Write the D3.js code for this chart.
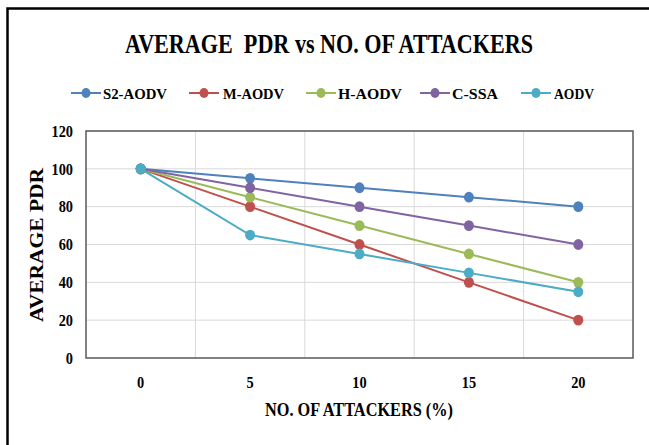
<!DOCTYPE html>
<html>
<head>
<meta charset="utf-8">
<script src="https://cdn.jsdelivr.net/npm/d3@7"></script>
<style>
  html, body { margin: 0; padding: 0; background: #fff; }
  svg { display: block; }
  text { font-family: "Liberation Serif", "Times New Roman", serif; font-weight: bold; fill: #000; white-space: pre; }
</style>
</head>
<body>
<svg id="chart" width="649" height="445"></svg>
<script>
// Attack percentages on the x axis
const categories = ["0", "5", "10", "15", "20"];

// Average packet delivery ratio per protocol
const seriesNames = ["S2-AODV", "M-AODV", "H-AODV", "C-SSA", "AODV"];
const s2aodv = [100, 95, 90, 85, 80];
const maodv  = [100, 80, 60, 40, 20];
const haodv  = [100, 85, 70, 55, 40];
const cssa   = [100, 90, 80, 70, 60];
const aodv   = [100, 65, 55, 45, 35];
const seriesValues = [s2aodv, maodv, haodv, cssa, aodv];
const seriesColors = ["#4F81BD", "#C0504D", "#9BBB59", "#8064A2", "#4BACC6"];

const yTicks = [0, 20, 40, 60, 80, 100, 120];

const titleText = "AVERAGE  PDR vs NO. OF ATTACKERS";
const xTitleText = "NO. OF ATTACKERS (%)";
const yTitleText = "AVERAGE PDR";

const FONT = '"Liberation Serif", "Times New Roman", serif';
const svg = d3.select("#chart");

// Outer frame (left and top edges)
svg.append("path")
  .attr("d", "M7.5,445 L7.5,8.5 L649,8.5")
  .attr("fill", "none")
  .attr("stroke", "#000")
  .attr("stroke-width", 2.5);

const plot = { left: 86, right: 633, top: 131, bottom: 358 };

const x = d3.scaleBand().domain(categories).range([plot.left, plot.right]).paddingInner(0).paddingOuter(0);
const y = d3.scaleLinear().domain([0, 120]).range([plot.bottom, plot.top]);
const cx = c => x(c) + x.bandwidth() / 2;

// Fit a text element to a given width
function fit(sel, w) {
  sel.attr("textLength", w).attr("lengthAdjust", "spacingAndGlyphs");
}
function squeeze(sel, k) {
  sel.each(function () {
    const len = this.getComputedTextLength();
    d3.select(this).attr("textLength", len * k).attr("lengthAdjust", "spacingAndGlyphs");
  });
}

// Title
svg.append("text")
  .attr("x", 125).attr("y", 53)
  .style("font-size", "27px")
  .text(titleText)
  .call(fit, 408);

// Legend
const legendItems = [
  { mark: 86, textX: 103, w: 64 },
  { mark: 204, textX: 223, w: 61 },
  { mark: 321, textX: 338, w: 64 },
  { mark: 435, textX: 452, w: 46 },
  { mark: 536, textX: 554, w: 40 }
];
const lg = svg.append("g");
seriesNames.forEach((name, i) => {
  const it = legendItems[i];
  lg.append("line")
    .attr("x1", it.mark - 15).attr("x2", it.mark + 15)
    .attr("y1", 93).attr("y2", 93)
    .attr("stroke", seriesColors[i]).attr("stroke-width", 2);
  lg.append("ellipse")
    .attr("cx", it.mark).attr("cy", 93).attr("rx", 4.5).attr("ry", 5)
    .attr("fill", seriesColors[i]);
  lg.append("text")
    .attr("x", it.textX).attr("y", 98.5)
    .style("font-size", "15.5px")
    .text(name)
    .call(fit, it.w);
});

// Horizontal gridlines
svg.append("g").selectAll("line").data(yTicks.filter(t => t > 0))
  .join("line")
  .attr("x1", plot.left).attr("x2", plot.right)
  .attr("y1", d => y(d)).attr("y2", d => y(d))
  .attr("stroke", "#d9d9d9").attr("stroke-width", 1);

// Vertical gridlines at category boundaries
svg.append("g").selectAll("line").data(categories.slice(1))
  .join("line")
  .attr("x1", d => x(d)).attr("x2", d => x(d))
  .attr("y1", plot.top).attr("y2", plot.bottom)
  .attr("stroke", "#d9d9d9").attr("stroke-width", 1);

// Plot area border
svg.append("rect")
  .attr("x", plot.left).attr("y", plot.top)
  .attr("width", plot.right - plot.left).attr("height", plot.bottom - plot.top)
  .attr("fill", "none").attr("stroke", "#595959").attr("stroke-width", 1.5);

// Axes
const xAxis = svg.append("g")
  .attr("transform", `translate(0,${plot.bottom})`)
  .call(d3.axisBottom(x).tickSize(0).tickPadding(18));
xAxis.attr("font-family", FONT);
xAxis.select(".domain").remove();
xAxis.selectAll("text").style("font-family", FONT).style("font-size", "16.5px").attr("fill", "#000").call(squeeze, 0.87);

const yAxis = svg.append("g")
  .attr("transform", `translate(${plot.left},0)`)
  .call(d3.axisLeft(y).tickValues(yTicks).tickSize(0).tickPadding(13));
yAxis.attr("font-family", FONT);
yAxis.select(".domain").remove();
yAxis.selectAll("text").style("font-family", FONT).style("font-size", "16.5px").attr("fill", "#000").call(squeeze, 0.87);

// Axis titles
svg.append("text")
  .attr("x", 265).attr("y", 416)
  .style("font-size", "19px")
  .text(xTitleText)
  .call(fit, 188);

svg.append("text")
  .attr("transform", "translate(43,322) rotate(-90)")
  .attr("x", 0).attr("y", 0)
  .style("font-size", "18px")
  .text(yTitleText)
  .call(fit, 154);

// Series lines and markers
const line = d3.line().x((d, i) => cx(categories[i])).y(d => y(d));
seriesValues.forEach((vals, i) => {
  svg.append("path")
    .datum(vals)
    .attr("d", line)
    .attr("fill", "none")
    .attr("stroke", seriesColors[i])
    .attr("stroke-width", 2);
});
seriesValues.forEach((vals, i) => {
  svg.append("g").selectAll("ellipse").data(vals)
    .join("ellipse")
    .attr("cx", (d, j) => cx(categories[j]))
    .attr("cy", d => y(d))
    .attr("rx", 5).attr("ry", 5.4)
    .attr("fill", seriesColors[i]);
});
</script>
</body>
</html>
